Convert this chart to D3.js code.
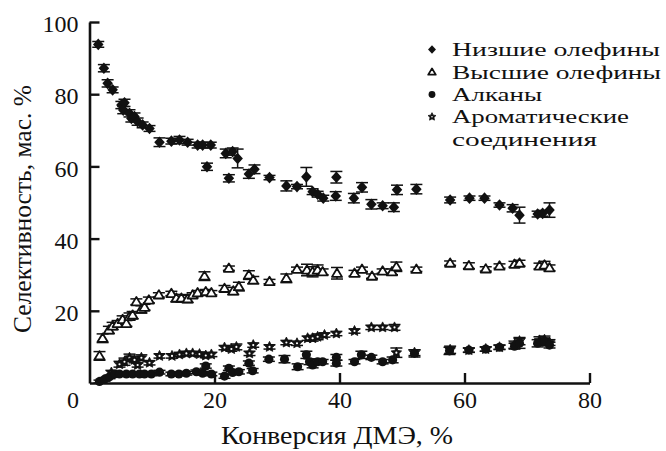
<!DOCTYPE html>
<html>
<head>
<meta charset="utf-8">
<script src="https://cdn.jsdelivr.net/npm/d3@7"></script>
<style>
  body { margin: 0; background: #fff; }
  svg { display: block; }
</style>
</head>
<body>
<script>
// --- data ---
var lowX = [1.4,2.3,2.9,3.7,5.1, 5.6,5.4,6.4,6.7,7.2, 7.7,8.5,9.6,11.2,13.1, 14.4,15.7,17.3,18.1,18.8,
            19.4,21.8,22.3,22.9,23.7, 25.5,26.4,28.8,31.5,33.2, 34.7,35.7,36.5,37.4,39.5, 39.4,42.3,43.6,45.1,46.9,
            48.7,49.2,52.3,57.7,60.8, 63.2,65.6,67.7,68.8,71.7, 72.5,73.6];
var lowY = [93.8,87.2,83.0,81.2,77.0, 77.6,75.6,74.7,73.3,73.8, 72.4,71.5,70.5,66.7,67.0, 67.3,66.7,65.9,65.9,59.9,
            65.9,63.6,56.7,64.1,62.2, 57.9,59.2,56.9,54.6,54.4, 57.1,53.0,52.3,51.2,57.0, 51.8,51.2,54.2,49.5,49.1,
            48.7,53.5,53.7,50.7,51.2, 51.2,49.3,48.4,46.5,46.8, 47.0,47.9];
var lowErr = [0.8,1.0,1.0,0.8,1.0, 1.0,1.0,1.0,1.0,1.0, 1.0,0.8,0.8,1.2,0.8, 1.0,0.8,0.8,0.8,1.0,
              0.8,1.2,1.0,1.0,2.6, 1.2,1.2,0.6,1.4,0.6, 2.6,0.8,0.8,0.8,1.6, 1.2,1.3,1.3,1.3,0.8,
              1.2,1.3,1.3,0.8,0.6, 0.6,0.6,1.0,2.2,0.8, 0.8,2.0];

var highX = [1.6,2.1,3.1,3.7,4.5, 5.3,5.9,6.4,6.9,7.5, 8.3,8.8,9.5,11.1,13.1, 13.9,14.7,15.7,16.5,17.3,
             18.4,18.6,19.5,21.6,22.3, 23.0,23.9,25.5,26.2,28.8, 31.5,33.2,34.8,35.7,36.5, 37.3,39.6,42.4,43.6,45.2,
             46.9,48.4,49.1,52.3,57.7, 60.7,63.4,65.6,68.0,68.8, 72.0,72.8,73.6];
var highY = [7.5,12.4,14.7,15.8,16.5, 17.6,16.5,18.4,18.8,22.5, 20.4,21.0,23.0,24.4,24.8, 23.5,23.5,23.3,24.4,25.0,
             29.6,25.3,25.0,26.2,31.8, 25.5,26.7,29.9,28.5,28.1, 29.0,31.5,31.3,30.8,31.3, 30.8,30.4,30.4,31.5,29.6,
             31.0,30.8,32.2,31.5,33.2, 32.5,31.6,32.4,32.9,33.2, 32.4,32.7,31.9];
var highErr = [1.2,1.2,1.0,1.0,0.8, 1.0,0.8,1.0,1.0,0.8, 1.0,0.8,0.8,0.6,0.6, 1.0,1.0,1.0,0.6,0.6,
               1.2,0.6,0.6,0.8,0.6, 1.0,1.2,1.2,1.0,0.6, 1.2,0.6,1.6,1.4,1.4, 0.8,1.6,0.8,0.6,0.6,
               0.6,0.8,1.3,0.6,0.6, 0.8,0.6,0.6,0.8,0.8, 0.8,1.0,0.8];

var alkX = [1.6,2.4,3.2,4.0,4.8, 5.9,6.9,8.0,8.8,9.9, 11.2,13.1,14.3,15.5,17.1, 18.1,18.6,19.5,21.6,22.3,
            22.9,23.9,25.5,26.1,28.7, 31.2,33.3,34.7,35.2,35.7, 36.5,37.3,39.5,39.5,42.4, 43.5,45.1,46.9,48.5,52.0,
            57.6,60.7,63.4,65.6,68.0, 68.8,71.7,72.8,73.6];
var alkY = [0.4,1.0,1.7,2.5,2.5, 2.5,2.5,2.5,2.5,2.5, 3.0,2.5,2.5,2.7,3.1, 2.7,4.7,2.5,1.9,4.1,
            2.9,3.1,5.5,3.4,6.6, 6.6,4.5,7.8,5.9,5.0, 5.9,5.9,7.1,5.5,5.9, 7.8,7.1,5.9,6.4,8.2,
            8.9,9.1,9.4,9.9,10.2, 11.0,11.0,11.4,10.5];
var alkErr = [0.4,0.5,0.5,0.5,0.5, 0.5,0.5,0.5,0.5,0.5, 0.5,0.5,0.5,0.5,0.5, 0.5,0.6,0.5,0.6,0.6,
              0.6,0.6,0.6,0.6,0.6, 1.0,0.8,1.0,0.8,0.8, 0.6,0.6,0.8,0.8,0.6, 1.0,0.6,0.6,0.8,1.0,
              1.0,0.6,0.6,0.6,0.8, 1.4,1.0,1.0,0.8];

var aroX = [3.5,4.8,5.6,6.4,7.2, 7.7,8.3,9.6,11.2,13.2, 14.4,15.5,16.5,17.6,18.6, 19.5,21.6,22.7,23.5,25.6,
            26.2,28.8,31.5,33.2,34.9, 35.7,36.5,37.6,39.5,42.4, 45.1,46.9,48.8,49.1,52.0, 57.7,60.7,63.4,65.6,68.0,
            68.8,72.0,72.8,73.6];
var aroY = [2.9,5.2,5.9,7.0,6.4, 5.0,7.0,5.6,7.5,7.5, 7.9,8.2,8.2,8.0,7.6, 7.9,9.8,9.4,10.0,8.2,
            10.5,10.0,11.2,11.0,12.4, 12.4,12.8,13.3,13.7,14.4, 15.4,15.4,15.4,8.4,8.4, 9.2,9.1,9.4,9.9,10.6,
            11.6,11.8,12.0,11.2];
var aroErr = [0.6,0.8,1.0,1.0,0.8, 0.6,0.8,0.6,0.6,0.6, 0.6,0.6,0.6,0.6,0.6, 0.6,0.6,0.6,0.8,0.6,
              0.6,0.6,0.6,0.6,0.6, 0.8,0.8,0.6,0.6,0.6, 0.6,0.6,0.8,1.3,0.8, 1.0,0.6,0.6,0.6,1.0,
              1.0,1.0,1.0,0.8];

var legendNames = ["Низшие олефины", "Высшие олефины", "Алканы", "Ароматические"];
var xTicks = [0, 20, 40, 60, 80];
var yTicks = [20, 40, 60, 80, 100];

// --- setup ---
var width = 666, height = 451,
    serif = "'Liberation Serif'";

var svg = d3.select("body").append("svg")
  .attr("width", width)
  .attr("height", height);

var x = d3.scaleLinear().domain([0, 80]).range([89.5, 589.5]);
var y = d3.scaleLinear().domain([0, 100]).range([383, 22]);

// marker shapes
function diamond(s) { return "M0," + (-s * 1.1) + "L" + s + ",0L0," + (s * 1.1) + "L" + (-s) + ",0Z"; }
function triangle(s) { return "M0," + (-s) + "L" + (s * 1.05) + "," + (s * 0.75) + "L" + (-s * 1.05) + "," + (s * 0.75) + "Z"; }
function star(s) {
  var p = [];
  for (var i = 0; i < 10; i++) {
    var r = i % 2 ? s * 0.5 : s, a = Math.PI / 5 * i - Math.PI / 2;
    p.push([r * Math.cos(a), r * Math.sin(a)]);
  }
  return "M" + p.join("L") + "Z";
}

var series = [
  {xs: highX, ys: highY, err: highErr, shape: "tri"},
  {xs: aroX, ys: aroY, err: aroErr, shape: "star"},
  {xs: alkX, ys: alkY, err: alkErr, shape: "circle"},
  {xs: lowX, ys: lowY, err: lowErr, shape: "diamond"}
];

function drawMark(g, shape, sz) {
  if (shape == "circle") {
    g.append("circle").attr("r", sz * 0.95).attr("fill", "#111");
  } else if (shape == "diamond") {
    g.append("path").attr("d", diamond(sz * 1.1)).attr("fill", "#111");
  } else if (shape == "tri") {
    g.append("path").attr("d", triangle(sz)).attr("fill", "#fff")
      .attr("stroke", "#111").attr("stroke-width", 1.8).attr("stroke-linejoin", "round");
  } else {
    g.append("path").attr("d", star(sz * 1.15)).attr("fill", "#111")
      .attr("stroke", "#111").attr("stroke-width", 0.8).attr("stroke-linejoin", "round");
    g.append("circle").attr("r", sz * 0.22).attr("fill", "#fff");
  }
}

series.forEach(function(s) {
  var pts = s.xs.map(function(d, i) { return {x: d, y: s.ys[i], e: s.err[i]}; });
  var g = svg.append("g");

  // error bars
  var eb = g.selectAll(".eb").data(pts).enter().append("g")
    .attr("stroke", "#111").attr("stroke-width", 1.5);
  eb.append("line")
    .attr("x1", function(d) { return x(d.x); })
    .attr("x2", function(d) { return x(d.x); })
    .attr("y1", function(d) { return y(d.y - d.e); })
    .attr("y2", function(d) { return y(d.y + d.e); });
  eb.append("line")
    .attr("x1", function(d) { return x(d.x) - 6; })
    .attr("x2", function(d) { return x(d.x) + 6; })
    .attr("y1", function(d) { return y(d.y + d.e); })
    .attr("y2", function(d) { return y(d.y + d.e); });
  eb.append("line")
    .attr("x1", function(d) { return x(d.x) - 6; })
    .attr("x2", function(d) { return x(d.x) + 6; })
    .attr("y1", function(d) { return y(d.y - d.e); })
    .attr("y2", function(d) { return y(d.y - d.e); });

  g.selectAll(".m").data(pts).enter().append("g")
    .attr("transform", function(d) { return "translate(" + x(d.x) + "," + y(d.y) + ")"; })
    .each(function() { drawMark(d3.select(this), s.shape, 4.8); });
});

// --- axes ---
var yAxis = svg.append("g")
  .attr("transform", "translate(" + x(0) + ",0)")
  .call(d3.axisLeft(y).tickValues(yTicks).tickSize(-10).tickSizeOuter(0).tickPadding(11));
var xAxis = svg.append("g")
  .attr("transform", "translate(0," + y(0) + ")")
  .call(d3.axisBottom(x).tickValues(xTicks).tickSize(-10).tickSizeOuter(0).tickPadding(8)
    .tickFormat(d3.format("d")));

[xAxis, yAxis].forEach(function(a) {
  a.attr("font-family", "Liberation Serif").attr("font-size", 24);
  a.select(".domain").attr("stroke", "#111").attr("stroke-width", 2.6);
  a.selectAll(".tick line").attr("stroke", "#111").attr("stroke-width", 2.4);
  a.selectAll("text").style("font-family", serif).attr("fill", "#111");
});
yAxis.selectAll("text").attr("dy", "0.4em");
// the "0" sits left of the corner, no tick line there
xAxis.selectAll(".tick").filter(function(d) { return d == 0; })
  .call(function(t) { t.select("line").remove(); t.select("text").attr("x", -17); });

// axis titles
svg.append("text")
  .attr("x", 337).attr("y", 444)
  .attr("text-anchor", "middle")
  .style("font-family", serif).attr("font-size", 25).attr("fill", "#111")
  .attr("textLength", 232).attr("lengthAdjust", "spacingAndGlyphs")
  .text("Конверсия ДМЭ, %");

svg.append("text")
  .attr("transform", "translate(31,209) rotate(-90)")
  .attr("text-anchor", "middle")
  .style("font-family", serif).attr("font-size", 25).attr("fill", "#111")
  .attr("textLength", 248).attr("lengthAdjust", "spacingAndGlyphs")
  .text("Селективность, мас. %");

// --- legend ---
var legShapes = ["diamond", "tri", "circle", "star"];
var legBase = [56, 78.5, 101, 123.3];
var legLen = [208, 209, 90, 177];
var leg = svg.append("g");
legendNames.forEach(function(name, i) {
  var m = leg.append("g").attr("transform", "translate(432," + (legBase[i] - 6.5) + ")");
  drawMark(m, legShapes[i], 3.6);
  leg.append("text")
    .attr("x", 452).attr("y", legBase[i])
    .style("font-family", serif).attr("font-size", 19.5).attr("fill", "#111")
    .attr("textLength", legLen[i]).attr("lengthAdjust", "spacingAndGlyphs")
    .text(name);
});
leg.append("text")
  .attr("x", 452).attr("y", 145.5)
  .style("font-family", serif).attr("font-size", 19.5).attr("fill", "#111")
  .attr("textLength", 145).attr("lengthAdjust", "spacingAndGlyphs")
  .text("соединения");
</script>
</body>
</html>
